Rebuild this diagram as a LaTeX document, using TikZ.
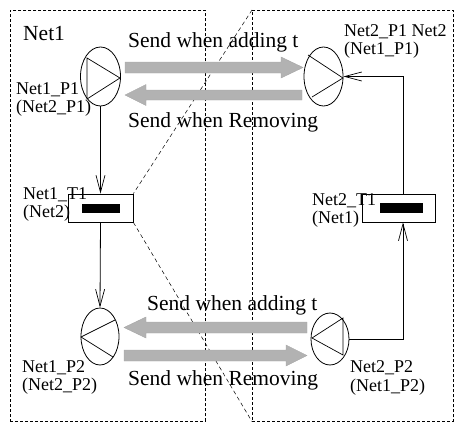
\documentclass[tikz,border=0pt]{standalone}
\usepackage{fontspec}
\setmainfont{Liberation Serif}
\usetikzlibrary{shapes.geometric,arrows.meta}
\tikzset{
  frame/.style={draw, dash pattern=on 3pt off 2pt, line width=0.6pt, rectangle, inner sep=0pt, anchor=north west},
  diag/.style={draw, dash pattern=on 4pt off 3pt, line width=0.5pt},
  place/.style={draw, ellipse, line width=0.8pt, inner sep=0pt},
  trans/.style={draw, rectangle, line width=0.8pt, inner sep=0pt},
  bar/.style={fill=black, rectangle, inner sep=0pt, anchor=north west},
  glyph/.style={line width=0.7pt},
  conn/.style={line width=0.8pt, -{Straight Barb[length=17pt,width=9pt,line width=0.7pt]}},
  fat/.style={fill=gray!60, draw=gray!70, line width=0.4pt},
  big/.style={font=\fontsize{21.5}{24}\selectfont, inner sep=0pt, anchor=base west},
  lab/.style={font=\fontsize{18}{20}\selectfont, inner sep=0pt, anchor=base west},
}
\begin{document}
\begin{tikzpicture}[x=1pt,y=-1pt]
\useasboundingbox (0,0) rectangle (455,423);
\clip (0,0) rectangle (455,423);
% frames
\node[frame, minimum width=195pt, minimum height=411pt] (n1) at (10,10) {};
\node[frame, minimum width=201pt, minimum height=411pt] (n2) at (252,10) {};
\node[big] (n1lab) at (23,40) {Net1};
% places
\node[place, minimum width=40pt, minimum height=59pt] (p11) at (100.5,76.5) {};
\node[place, minimum width=39pt, minimum height=59pt] (p21) at (323.5,76.5) {};
\node[place, minimum width=38pt, minimum height=57pt] (p12) at (100,336.5) {};
\node[place, minimum width=38pt, minimum height=52pt] (p22) at (330,339) {};
% glyphs in places
\draw[glyph, shift={(p11.center)}] (-13.5,-18.5) -- (19.5,1.5) -- (-13.5,22.5) -- cycle;
\draw[glyph, shift={(p21.center)}] (-15.5,-21.5) -- (19.5,1.5) -- (-11.5,20.5);
\draw[glyph, shift={(p12.center)}] (15,-16.5) -- (-19,0.5) -- (13,20.5);
\draw[glyph, shift={(p22.center)}] (-18,-1) -- (13,-21) -- (13,16) -- cycle;
% transitions
\node[trans, minimum width=65pt, minimum height=28pt] (t1) at (100.5,208) {};
\node[trans, minimum width=73pt, minimum height=28pt] (t2) at (398.5,208) {};
\node[bar, minimum width=38pt, minimum height=9pt] (b1) at (82,204) {};
\node[bar, minimum width=43pt, minimum height=10pt] (b2) at (380,203) {};
% dashed diagonals
\draw[diag] (n2.north west) -- (t1.north east);
\draw[diag] (t1.south east) -- (n2.south west);
% connectors
\draw[conn] (p11.south) -- (t1.north);
\draw[conn] (t1.south) -- (p12.north);
\draw[conn] (p22.east) -| ([xshift=4.5pt]t2.south);
\draw[conn] ([xshift=4.5pt]t2.north) |- (p21.east);
% fat arrows
\draw[fat] (125,62) -- (281,62) -- (281,57) -- (303,67.5) -- (281,78) -- (281,73) -- (125,73) -- cycle;
\draw[fat] (302,90) -- (146,90) -- (146,84.5) -- (125,95) -- (146,105.5) -- (146,100) -- (302,100) -- cycle;
\draw[fat] (307,322) -- (146,322) -- (146,317) -- (124,327.5) -- (146,338) -- (146,333) -- (307,333) -- cycle;
\draw[fat] (124,350) -- (286,350) -- (286,345) -- (307,355.5) -- (286,366) -- (286,361) -- (124,361) -- cycle;
% send texts
\node[big] (s1) at (128,47) {Send when adding t};
\node[big] (s2) at (128,127) {Send when Removing};
\node[big] (s3) at (147,310) {Send when adding t};
\node[big] (s4) at (128,385) {Send when Removing};
% labels
\node[lab] (l11a) at (16,94) {Net1\_P1};
\node[lab] (l11b) at (16,112) {(Net2\_P1)};
\node[lab] (l21a) at (344,36) {Net2\_P1 Net2};
\node[lab] (l21b) at (344,54) {(Net1\_P1)};
\node[lab] (lt1a) at (23,199) {Net1\_T1};
\node[lab] (lt1b) at (23,217) {(Net2)};
\node[lab] (lt2a) at (312,205) {Net2\_T1};
\node[lab] (lt2b) at (312,223) {(Net1)};
\node[lab] (l12a) at (22,372) {Net1\_P2};
\node[lab] (l12b) at (22,390) {(Net2\_P2)};
\node[lab] (l22a) at (350,372) {Net2\_P2};
\node[lab] (l22b) at (350,391) {(Net1\_P2)};
\end{tikzpicture}
\end{document}
